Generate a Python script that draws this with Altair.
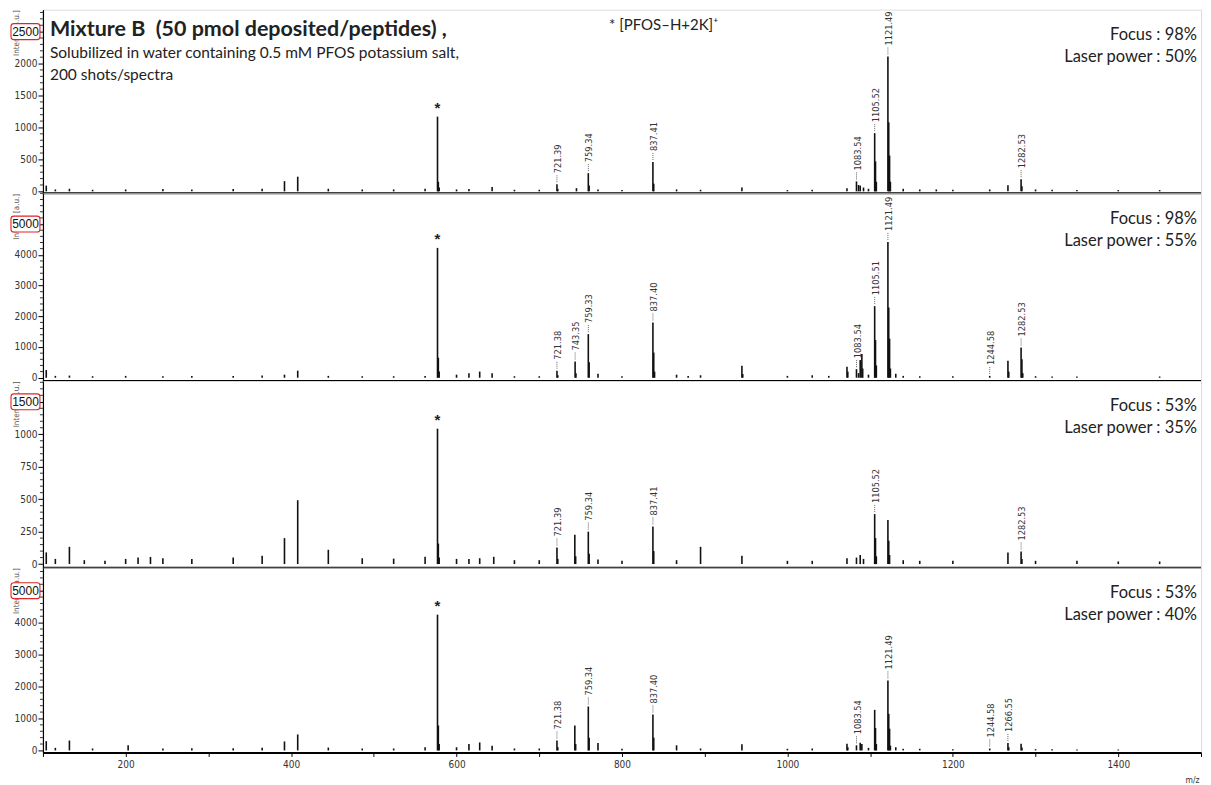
import altair as alt
import pandas as pd

NARROW = "Liberation Sans Narrow, Arial Narrow, DejaVu Sans Condensed, sans-serif"
SANS = "Lato, Carlito, Open Sans, sans-serif"

MZ_DOMAIN = [100, 1500]

# ---------------- Panel 1 : Focus 98 %, laser 50 % ----------------
p1_mz = [104, 115, 132, 160, 200, 245, 280, 330, 365, 392, 408, 445, 486, 524, 562,
         577, 578, 579, 600, 615, 643, 670, 700, 721.4, 722.4, 745, 759.3, 760.3, 771,
         800, 837.4, 838.4, 866, 895, 945, 1000, 1030, 1072, 1083.5, 1086, 1088, 1092,
         1098, 1105.5, 1106.5, 1107.5, 1121.5, 1122.5, 1123.5, 1124.5, 1140, 1160, 1180,
         1200, 1244.6, 1266.6, 1282.5, 1283.5, 1300, 1320, 1350, 1400, 1450]
p1_int = [90, 30, 40, 25, 30, 35, 30, 35, 40, 160, 230, 40, 30, 30, 40,
          1170, 150, 60, 30, 35, 70, 25, 25, 110, 40, 50, 285, 90, 30,
          20, 460, 120, 30, 25, 60, 20, 25, 50, 156, 100, 90, 60,
          40, 911, 470, 150, 2110, 1080, 560, 150, 40, 30, 30,
          25, 30, 95, 190, 80, 30, 25, 20, 20, 20]
p1_lab_mz = [721.39, 759.34, 837.41, 1083.54, 1105.52, 1121.49, 1282.53]
p1_lab_txt = ["721.39", "759.34", "837.41", "1083.54", "1105.52", "1121.49", "1282.53"]

# ---------------- Panel 2 : Focus 98 %, laser 55 % ----------------
p2_mz = [104, 115, 132, 160, 200, 245, 280, 330, 365, 392, 408, 445, 486, 524, 562,
         577, 578, 579, 600, 615, 628, 643, 670, 700, 721.4, 722.4, 743.35, 744.35,
         759.3, 760.3, 771, 800, 837.4, 838.4, 839.4, 866, 880, 895, 945, 946, 1000,
         1030, 1050, 1072, 1073, 1083.5, 1086, 1088, 1090, 1091, 1098, 1105.5, 1106.5,
         1107.5, 1121.5, 1122.5, 1123.5, 1124.5, 1131, 1140, 1160, 1200, 1244.6, 1266.6,
         1267.6, 1282.5, 1283.5, 1284.5, 1300, 1320, 1350, 1450]
p2_int = [250, 60, 70, 50, 60, 50, 60, 60, 70, 100, 230, 60, 50, 50, 60,
          4225, 650, 200, 100, 150, 200, 150, 50, 50, 230, 80, 530, 150,
          1420, 500, 130, 50, 1800, 820, 200, 100, 60, 80, 390, 120, 60,
          80, 60, 360, 200, 280, 150, 575, 770, 300, 100, 2330, 1225,
          400, 4420, 2285, 1270, 300, 130, 60, 50, 50, 60, 550,
          200, 985, 600, 150, 50, 40, 40, 40]
p2_lab_mz = [721.38, 743.35, 759.33, 837.40, 1083.54, 1105.51, 1121.49, 1244.58, 1282.53]
p2_lab_txt = ["721.38", "743.35", "759.33", "837.40", "1083.54", "1105.51", "1121.49",
              "1244.58", "1282.53"]

# ---------------- Panel 3 : Focus 53 %, laser 35 % ----------------
p3_mz = [104, 115, 132, 150, 175, 200, 215, 230, 245, 280, 330, 365, 392, 408, 445,
         486, 524, 562, 577, 578, 579, 600, 615, 628, 645, 670, 700, 721.4, 722.4, 743,
         744, 759.3, 760.3, 771, 800, 837.4, 838.4, 866, 895, 945, 1000, 1030, 1072,
         1083.5, 1088, 1092, 1105.5, 1106.5, 1107.5, 1121.5, 1122.5, 1123.5, 1140, 1160,
         1200, 1266.6, 1282.5, 1283.5, 1300, 1350, 1400, 1450]
p3_int = [90, 40, 133, 30, 25, 40, 50, 55, 45, 40, 50, 65, 200, 492, 110,
          45, 42, 56, 1043, 158, 50, 40, 40, 45, 56, 30, 30, 128, 40, 225,
          60, 250, 80, 35, 25, 290, 100, 30, 133, 64, 25, 25, 45,
          50, 70, 40, 385, 200, 60, 340, 180, 70, 30, 25,
          25, 90, 97, 40, 25, 25, 20, 20]
p3_lab_mz = [721.39, 759.34, 837.41, 1105.52, 1282.53]
p3_lab_txt = ["721.39", "759.34", "837.41", "1105.52", "1282.53"]

# ---------------- Panel 4 : Focus 53 %, laser 40 % ----------------
p4_mz = [104, 115, 132, 160, 203, 245, 280, 330, 365, 392, 408, 445, 486, 524, 562,
         577, 578, 579, 600, 615, 628, 643, 670, 700, 721.4, 722.4, 743, 744, 759.3,
         760.3, 771, 800, 837.4, 838.4, 866, 895, 945, 1000, 1030, 1072, 1073, 1083.5,
         1088, 1090, 1098, 1105.5, 1106.5, 1107.5, 1121.5, 1122.5, 1123.5, 1124.5, 1131,
         1140, 1160, 1200, 1244.6, 1266.6, 1267.6, 1282.5, 1283.5, 1300, 1320, 1350, 1400]
p4_int = [290, 80, 310, 60, 160, 60, 70, 70, 80, 280, 500, 90, 60, 60, 100,
          4250, 780, 200, 100, 200, 250, 150, 60, 60, 310, 100, 780, 200, 1375,
          400, 230, 50, 1125, 400, 160, 60, 190, 50, 60, 210, 100, 160,
          240, 200, 80, 1270, 700, 200, 2190, 1145, 680, 150, 100,
          50, 50, 40, 60, 230, 100, 210, 90, 40, 40, 30, 30]
p4_lab_mz = [721.38, 759.34, 837.40, 1083.54, 1121.49, 1244.58, 1266.55]
p4_lab_txt = ["721.38", "759.34", "837.40", "1083.54", "1121.49", "1244.58", "1266.55"]

# y-axis settings per panel
y_domains = [[-31, 2844], [-107, 6000], [-28, 1410], [-62, 5719]]
y_majors = [[0, 500, 1000, 1500, 2000, 2500],
            [0, 1000, 2000, 3000, 4000, 5000],
            [0, 250, 500, 750, 1000, 1250],
            [0, 1000, 2000, 3000, 4000, 5000]]
y_minor_step = [100, 200, 50, 200]
boxed_value = [2500, 5000, 1250, 5000]
boxed_text = ["2500", "5000", "1500", "5000"]
focus_txt = ["Focus : 98%", "Focus : 98%", "Focus : 53%", "Focus : 53%"]
laser_txt = ["Laser power : 50%", "Laser power : 55%", "Laser power : 35%", "Laser power : 40%"]
heights = [184, 188, 187, 185]
STAR_MZ = 577

PLOT_W = 1160
BOX_PATH = ("M -0.8 -0.55 L 0.8 -0.55 A 0.2 0.2 0 0 1 1 -0.35 L 1 0.35 "
            "A 0.2 0.2 0 0 1 0.8 0.55 L -0.8 0.55 A 0.2 0.2 0 0 1 -1 0.35 "
            "L -1 -0.35 A 0.2 0.2 0 0 1 -0.8 -0.55 Z")


def nearest(mzs, ints, target):
    k = min(range(len(mzs)), key=lambda j: abs(mzs[j] - target))
    return ints[k]


def make_panel(idx, mzs, ints, lab_mz, lab_txt, bottom):
    xscale = alt.Scale(domain=MZ_DOMAIN, nice=False, zero=False)
    yscale = alt.Scale(domain=y_domains[idx], nice=False, zero=False)
    if bottom:
        xaxis = alt.Axis(values=list(range(100, 1501, 100)),
                         labelExpr="datum.value % 200 == 0 ? datum.label : ''",
                         format="d", grid=False, tickSize=4, tickColor="black",
                         domainColor="black", domainWidth=2, labelFont=NARROW,
                         labelFontSize=10, labelColor="#333", labelPadding=3,
                         title="m/z", titleFont=NARROW, titleFontSize=8.5,
                         titleFontWeight="normal", titleColor="#333",
                         titleAnchor="end", titleAlign="right", titleX=PLOT_W - 2,
                         titleY=27, titleBaseline="middle")
    else:
        xaxis = None
    yaxis = alt.Axis(values=y_majors[idx],
                     labelExpr=f"datum.value == {boxed_value[idx]} ? '' : datum.label",
                     format="d", grid=False, tickSize=5, tickColor="black",
                     domainColor="black", domainWidth=1.2, labelFont=NARROW,
                     labelFontSize=10, labelColor="#333", labelPadding=1,
                     title="Intens. [a.u.]", titleFont=NARROW, titleFontSize=8,
                     titleFontWeight="normal", titleColor="#555",
                     titleAnchor="end", titleAlign="right", titleX=-26, titleY=0,
                     titleAngle=270, titleBaseline="middle")

    def X(field):
        return alt.X(field, scale=xscale, axis=xaxis)

    def Y(field):
        return alt.Y(field, scale=yscale, axis=yaxis)

    base0 = [0] * len(mzs)
    peaks = pd.DataFrame({"mz": mzs, "i": ints, "b": base0})
    sticks = alt.Chart(peaks).mark_rule(color="#111", strokeWidth=1.6).encode(
        x=X("mz:Q"), y=Y("i:Q"), y2="b:Q",
    )

    labdf = pd.DataFrame({"mz": lab_mz, "txt": lab_txt,
                          "i": [nearest(mzs, ints, m) for m in lab_mz]})
    leaders = alt.Chart(labdf).mark_rule(color="#555", strokeWidth=0.9, strokeDash=[1, 1],
                                         yOffset=-2, y2Offset=-10).encode(
        x=X("mz:Q"), y=Y("i:Q"), y2="i:Q",
    )
    labels = alt.Chart(labdf).mark_text(angle=270, align="left", baseline="middle",
                                        dx=11, dy=1, font=NARROW, fontSize=9.2,
                                        color="#333").encode(
        x=X("mz:Q"), y=Y("i:Q"), text="txt:N",
    )

    stardf = pd.DataFrame({"mz": [STAR_MZ], "i": [nearest(mzs, ints, STAR_MZ)], "t": ["*"]})
    star = alt.Chart(stardf).mark_text(baseline="middle", dy=-9, fontSize=15,
                                       font="Liberation Sans", fontWeight="bold",
                                       color="#222").encode(
        x=X("mz:Q"), y=Y("i:Q"), text="t:N",
    )

    majors = y_majors[idx]
    step = y_minor_step[idx]
    minor_vals = [v for v in range(0, int(y_domains[idx][1]) + 1, step) if v not in majors]
    minordf = pd.DataFrame({"i": minor_vals})
    minor = alt.Chart(minordf).mark_rule(color="black", strokeWidth=0.8).encode(
        y=Y("i:Q"), x=alt.value(-3), x2=alt.value(0),
    )

    # black lower frame line of the panel, at the bottom of the intensity scale
    basedf = pd.DataFrame({"i": [y_domains[idx][0]]})
    baseline = alt.Chart(basedf).mark_rule(color="black", strokeWidth=2).encode(
        y=Y("i:Q"), x=alt.value(0), x2=alt.value(PLOT_W),
    )

    boxdf = pd.DataFrame({"i": [boxed_value[idx]], "t": [boxed_text[idx]]})
    box = alt.Chart(boxdf).mark_point(shape=BOX_PATH, size=841, filled=True, fill="white",
                                      stroke="#e02525", strokeWidth=1.1, opacity=1).encode(
        y=Y("i:Q"), x=alt.value(-17.5),
    )
    boxtxt = alt.Chart(boxdf).mark_text(font="Liberation Sans", fontSize=12,
                                        color="#111", align="center",
                                        baseline="middle").encode(
        y=Y("i:Q"), x=alt.value(-17.5), text="t:N",
    )

    def note(txt, px, py, **kw):
        df = pd.DataFrame({"t": [txt]})
        return alt.Chart(df).mark_text(**kw).encode(
            x=alt.value(px), y=alt.value(py), text="t:N")

    info_kw = dict(align="right", baseline="alphabetic", font=SANS, fontSize=16.5,
                   color="#222")
    focus = note(focus_txt[idx], PLOT_W - 4, 30.5, **info_kw)
    laser = note(laser_txt[idx], PLOT_W - 4, 52.5, **info_kw)

    layers = [sticks, minor, box, boxtxt, leaders, labels, star, focus, laser]
    if not bottom:
        layers.append(baseline)

    if idx == 0:
        title = note("Mixture B\u00a0\u00a0(50 pmol deposited/peptides) ,", 7, 26,
                     align="left", baseline="alphabetic", font=SANS, fontSize=21.5,
                     fontWeight="bold", color="#222")
        sub1 = note("Solubilized in water containing 0.5 mM PFOS potassium salt,", 7, 48.5,
                    align="left", baseline="alphabetic", font=SANS, fontSize=15.5,
                    color="#222")
        sub2 = note("200 shots/spectra", 7, 70.5,
                    align="left", baseline="alphabetic", font=SANS, fontSize=15.5,
                    color="#222")
        leg = note("* [PFOS\u2013H+2K]\u207A", 567, 20,
                   align="left", baseline="alphabetic", font=SANS, fontSize=15,
                   color="#222")
        layers += [title, sub1, sub2, leg]

    return alt.layer(*layers).properties(width=PLOT_W, height=heights[idx])


panels = [
    make_panel(0, p1_mz, p1_int, p1_lab_mz, p1_lab_txt, False),
    make_panel(1, p2_mz, p2_int, p2_lab_mz, p2_lab_txt, False),
    make_panel(2, p3_mz, p3_int, p3_lab_mz, p3_lab_txt, False),
    make_panel(3, p4_mz, p4_int, p4_lab_mz, p4_lab_txt, True),
]

chart = alt.vconcat(*panels, spacing=0, bounds="flush").configure_view(
    stroke="#888", strokeWidth=1.2
).configure(background="white", padding=0)

chart.save("out.html", embed_options={"renderer": "svg", "actions": False})
